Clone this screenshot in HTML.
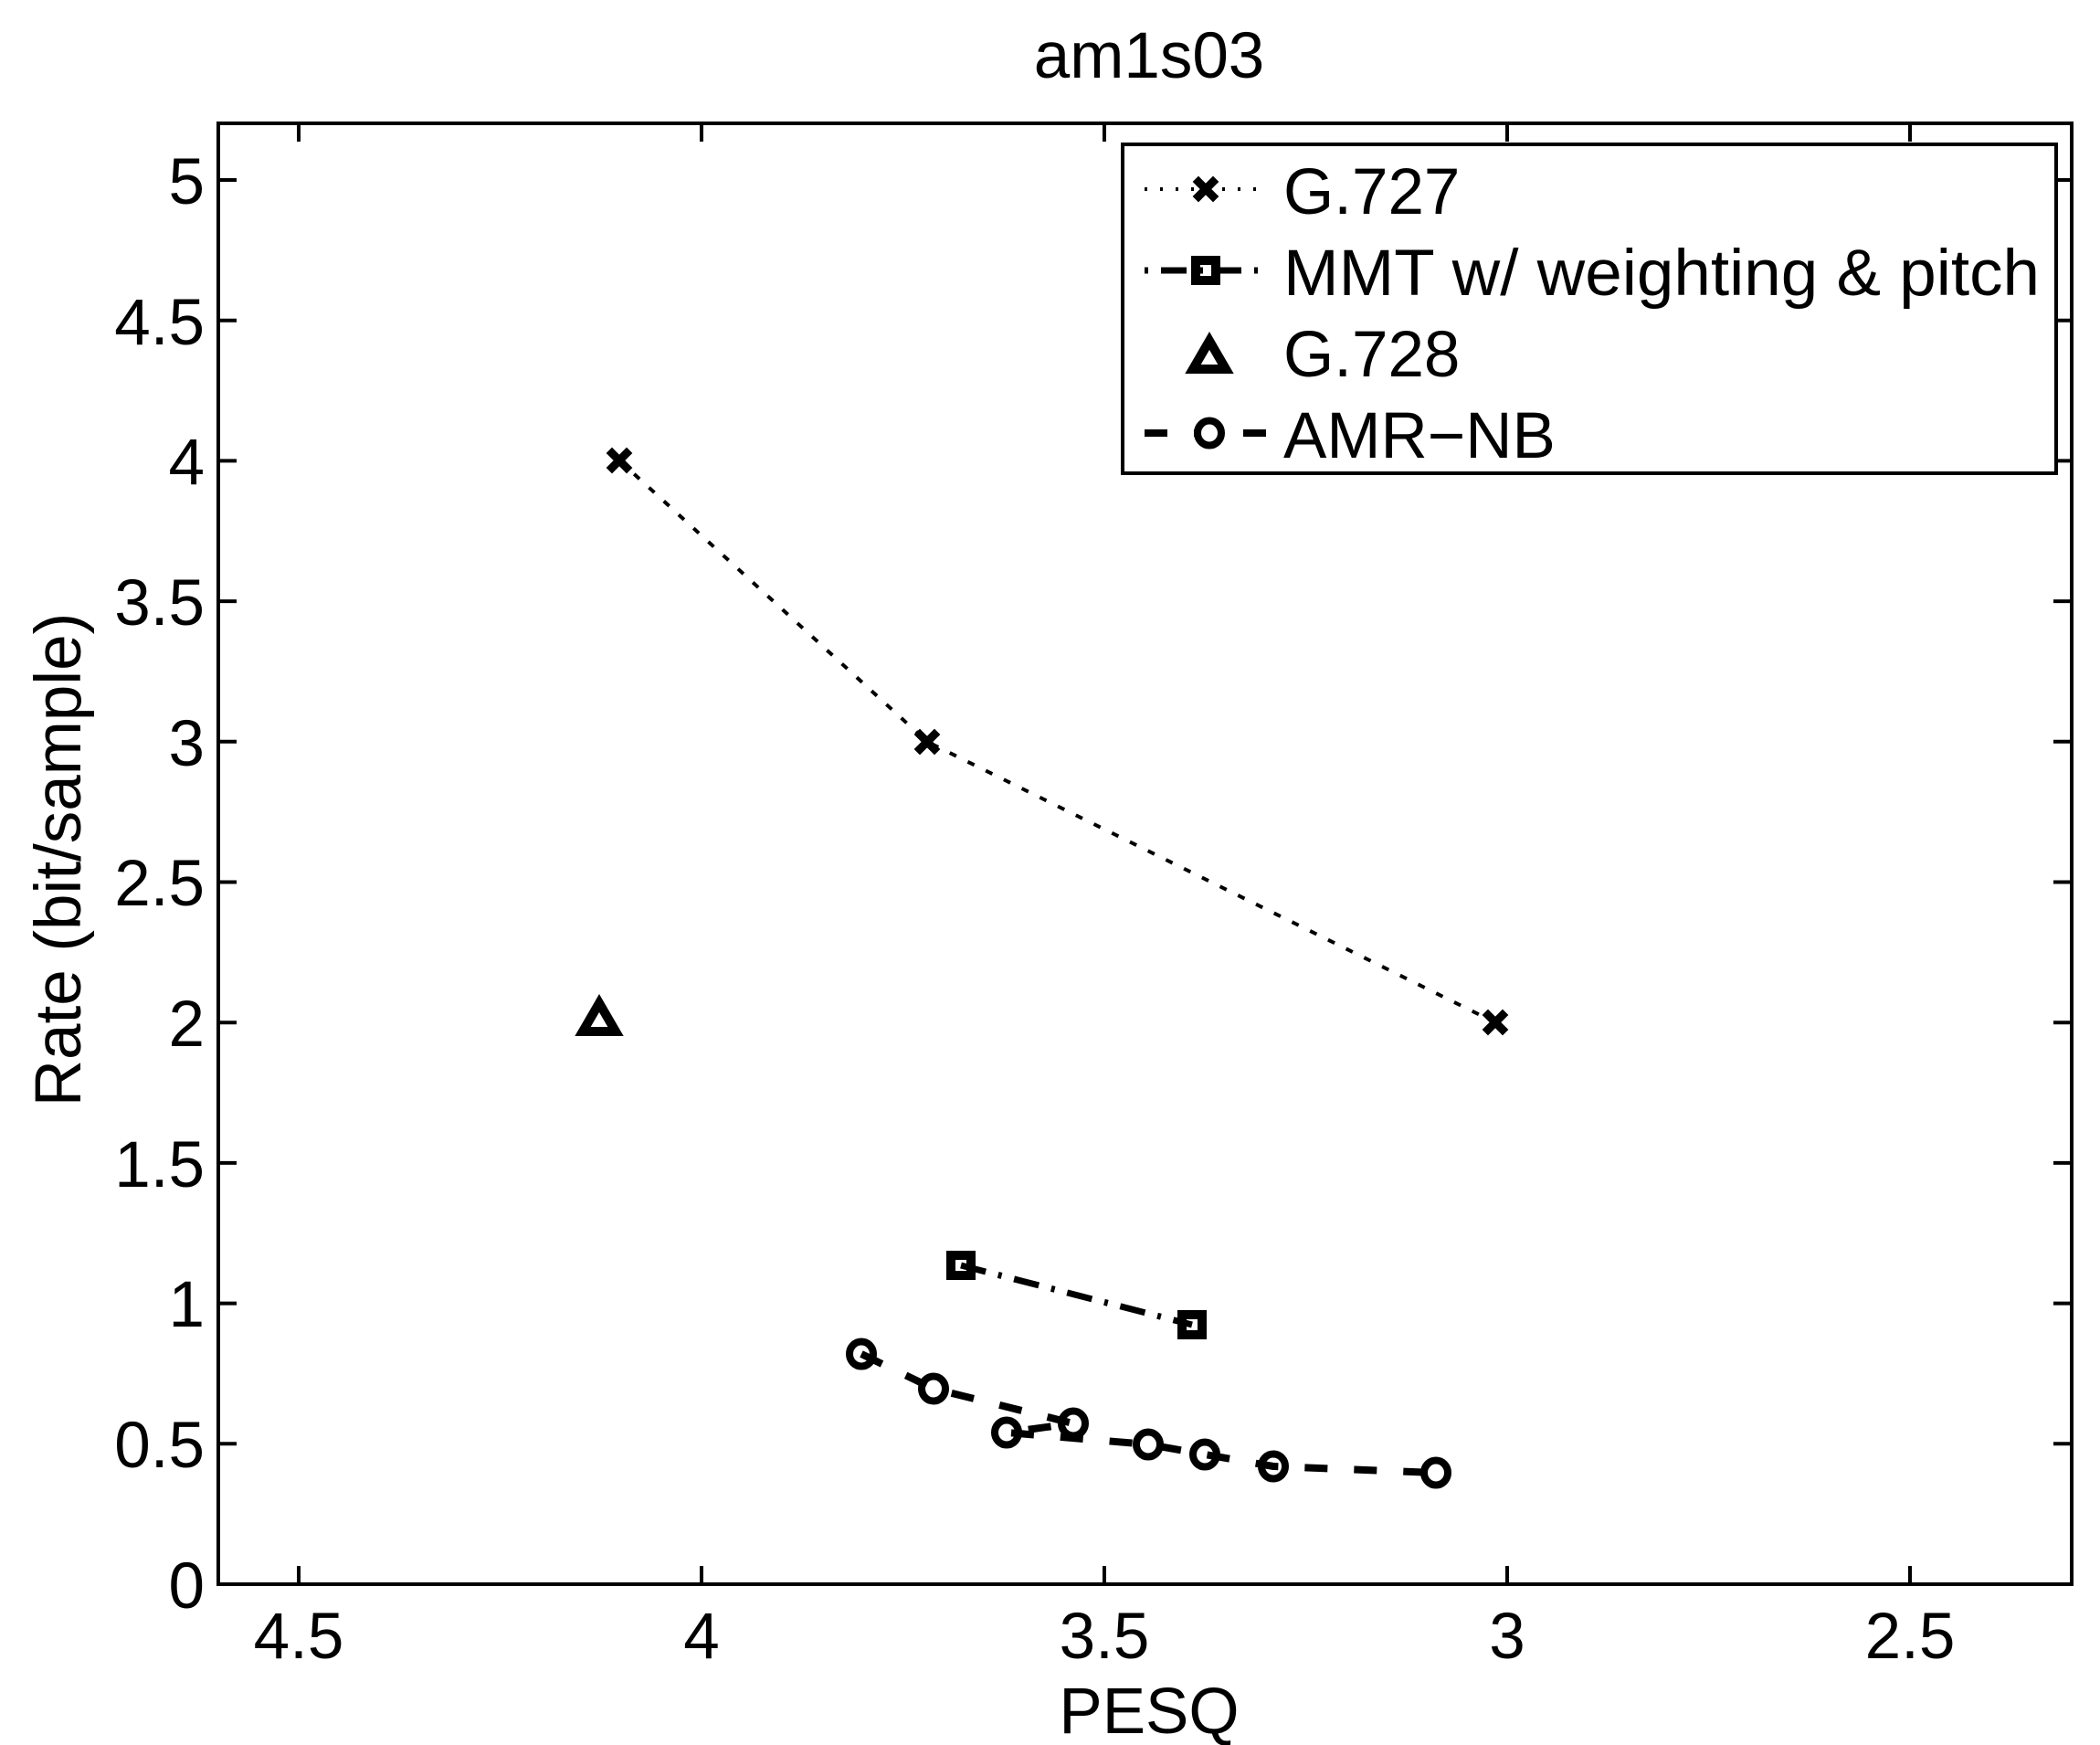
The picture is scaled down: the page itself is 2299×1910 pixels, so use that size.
<!DOCTYPE html>
<html><head><meta charset="utf-8"><style>html,body{margin:0;padding:0;background:#fff}svg{display:block}</style></head>
<body>
<svg width="2299" height="1910" viewBox="0 0 2299 1910" xmlns="http://www.w3.org/2000/svg" font-family="Liberation Sans, Arial, sans-serif" fill="#000">
<rect width="2299" height="1910" fill="#fff"/>
<rect x="239" y="135" width="2029" height="1599" fill="none" stroke="#000" stroke-width="4"/>
<g stroke="#000" stroke-width="4">
<line x1="327" y1="1734" x2="327" y2="1714"/><line x1="327" y1="135" x2="327" y2="155"/>
<line x1="768" y1="1734" x2="768" y2="1714"/><line x1="768" y1="135" x2="768" y2="155"/>
<line x1="1209" y1="1734" x2="1209" y2="1714"/><line x1="1209" y1="135" x2="1209" y2="155"/>
<line x1="1650" y1="1734" x2="1650" y2="1714"/><line x1="1650" y1="135" x2="1650" y2="155"/>
<line x1="2091" y1="1734" x2="2091" y2="1714"/><line x1="2091" y1="135" x2="2091" y2="155"/>
</g>
<g stroke="#000" stroke-width="4">
<line x1="239" y1="1734" x2="259" y2="1734"/><line x1="2268" y1="1734" x2="2248" y2="1734"/>
<line x1="239" y1="1580.3" x2="259" y2="1580.3"/><line x1="2268" y1="1580.3" x2="2248" y2="1580.3"/>
<line x1="239" y1="1426.6" x2="259" y2="1426.6"/><line x1="2268" y1="1426.6" x2="2248" y2="1426.6"/>
<line x1="239" y1="1272.9" x2="259" y2="1272.9"/><line x1="2268" y1="1272.9" x2="2248" y2="1272.9"/>
<line x1="239" y1="1119.2" x2="259" y2="1119.2"/><line x1="2268" y1="1119.2" x2="2248" y2="1119.2"/>
<line x1="239" y1="965.5" x2="259" y2="965.5"/><line x1="2268" y1="965.5" x2="2248" y2="965.5"/>
<line x1="239" y1="811.8" x2="259" y2="811.8"/><line x1="2268" y1="811.8" x2="2248" y2="811.8"/>
<line x1="239" y1="658.1" x2="259" y2="658.1"/><line x1="2268" y1="658.1" x2="2248" y2="658.1"/>
<line x1="239" y1="504.4" x2="259" y2="504.4"/><line x1="2268" y1="504.4" x2="2248" y2="504.4"/>
<line x1="239" y1="350.7" x2="259" y2="350.7"/><line x1="2268" y1="350.7" x2="2248" y2="350.7"/>
<line x1="239" y1="197" x2="259" y2="197"/><line x1="2268" y1="197" x2="2248" y2="197"/>
</g>
<g font-size="71" text-anchor="end">
<text x="224" y="1760">0</text>
<text x="224" y="1606">0.5</text>
<text x="224" y="1452">1</text>
<text x="224" y="1299">1.5</text>
<text x="224" y="1145">2</text>
<text x="224" y="991">2.5</text>
<text x="224" y="838">3</text>
<text x="224" y="684">3.5</text>
<text x="224" y="530">4</text>
<text x="224" y="377">4.5</text>
<text x="224" y="223">5</text>
</g>
<g font-size="71" text-anchor="middle">
<text x="327" y="1815">4.5</text>
<text x="768" y="1815">4</text>
<text x="1209" y="1815">3.5</text>
<text x="1650" y="1815">3</text>
<text x="2091" y="1815">2.5</text>
<text x="1258" y="1897">PESQ</text>
<text x="1258" y="85">am1s03</text>
<text transform="translate(88,941) rotate(-90)">Rate (bit/sample)</text>
</g>
<polyline points="678,504 1015,811.8 1637,1119.2" fill="none" stroke="#000" stroke-width="4" stroke-dasharray="8 14"/>
<g stroke="#000" stroke-width="9" stroke-linecap="square">
<path d="M670,496 L686,512 M686,496 L670,512"/>
<path d="M1007,804 L1023,820 M1023,804 L1007,820"/>
<path d="M1629,1111 L1645,1127 M1645,1111 L1629,1127"/>
</g>
<polygon points="656,1098 638,1129 674,1129" fill="none" stroke="#000" stroke-width="10" stroke-linejoin="miter"/>
<polyline points="1052,1385 1305,1450" fill="none" stroke="#000" stroke-width="7" stroke-dasharray="28 14 4 14"/>
<rect x="1041" y="1374" width="22" height="22" fill="none" stroke="#000" stroke-width="10"/>
<rect x="1294" y="1439" width="22" height="22" fill="none" stroke="#000" stroke-width="10"/>
<polyline points="943,1482 1022,1520 1175,1558 1102,1568 1257,1581 1319,1592 1394,1605 1572,1612" fill="none" stroke="#000" stroke-width="8" stroke-dasharray="25 29"/>
<g fill="none" stroke="#000" stroke-width="8">
<ellipse cx="943" cy="1482" rx="13" ry="13.5"/>
<ellipse cx="1022" cy="1520" rx="13" ry="13.5"/>
<ellipse cx="1102" cy="1568" rx="13" ry="13.5"/>
<ellipse cx="1175" cy="1558" rx="13" ry="13.5"/>
<ellipse cx="1257" cy="1581" rx="13" ry="13.5"/>
<ellipse cx="1319" cy="1592" rx="13" ry="13.5"/>
<ellipse cx="1394" cy="1605" rx="13" ry="13.5"/>
<ellipse cx="1572" cy="1612" rx="13" ry="13.5"/>
</g>
<rect x="1229" y="158" width="1022" height="360" fill="#fff" stroke="#000" stroke-width="4"/>
<line x1="1253" y1="207" x2="1377" y2="207" stroke="#000" stroke-width="4" stroke-dasharray="3 14"/>
<path d="M1312,199 L1328,215 M1328,199 L1312,215" stroke="#000" stroke-width="9" stroke-linecap="square"/>
<line x1="1253" y1="296" x2="1388" y2="296" stroke="#000" stroke-width="7" stroke-dasharray="4 14 28 14"/>
<rect x="1309" y="285" width="22" height="22" fill="none" stroke="#000" stroke-width="10"/>
<polygon points="1324,373 1306,404 1342,404" fill="none" stroke="#000" stroke-width="10"/>
<line x1="1253" y1="474" x2="1388" y2="474" stroke="#000" stroke-width="8" stroke-dasharray="25 29"/>
<ellipse cx="1324" cy="474" rx="13" ry="13.5" fill="#fff" stroke="#000" stroke-width="8"/>
<g font-size="71">
<text x="1405" y="234">G.727</text>
<text x="1405" y="323" textLength="828" lengthAdjust="spacingAndGlyphs">MMT w/ weighting &amp; pitch</text>
<text x="1405" y="412">G.728</text>
<text x="1405" y="501">AMR−NB</text>
</g>
</svg>
</body></html>
